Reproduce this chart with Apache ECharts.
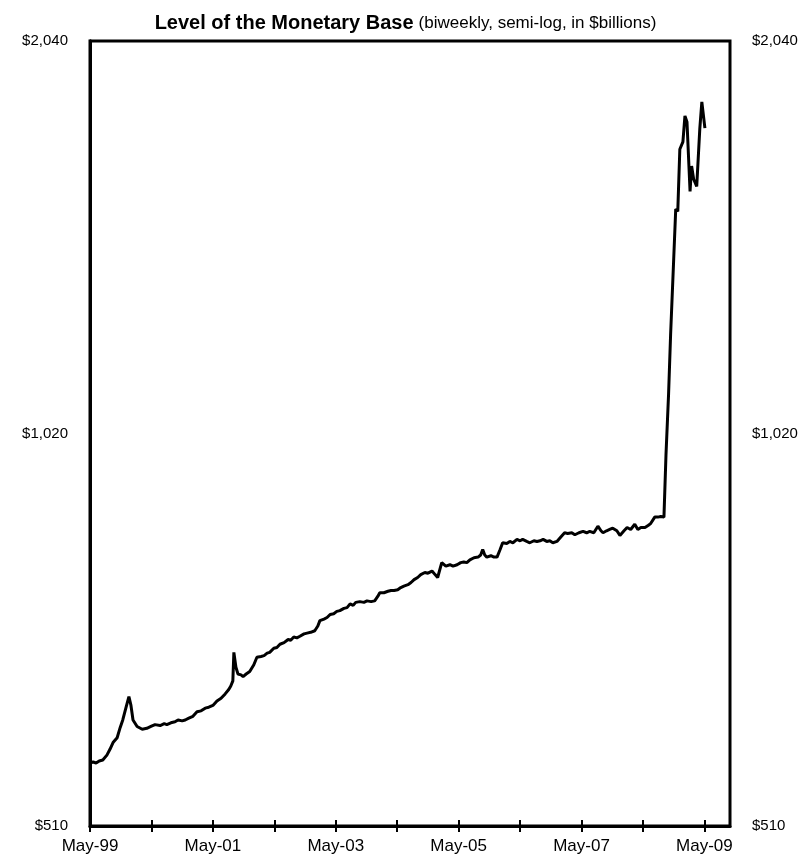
<!DOCTYPE html>
<html>
<head>
<meta charset="utf-8">
<script src="https://cdn.jsdelivr.net/npm/echarts@6/dist/echarts.min.js"></script>
<style>
  html, body { margin: 0; padding: 0; background: #fff; }
  #chart { width: 811px; height: 868px; }
</style>
</head>
<body>
<div id="chart"></div>
<script>
// months since May-1999
var months = [
  0, 0.6, 1.2, 1.8, 2.5, 3.3, 3.9, 4.5, 5.3, 5.9, 6.4, 7.0, 7.6, 8.0, 8.4, 9.2,
  10.2, 11.1, 11.9, 12.7, 13.7, 14.5, 15.0, 15.8, 16.6, 17.2, 18.0, 18.6, 19.3,
  20.1, 20.9, 21.7, 22.5, 23.2, 24.0, 24.8, 25.6, 26.4, 27.1, 27.5, 27.9, 28.1,
  28.5, 28.9, 29.5, 29.9, 30.5, 31.2, 32.0, 32.6, 33.4, 34.0, 34.6, 35.1, 35.9,
  36.5, 37.1, 37.9, 38.7, 39.2, 39.8, 40.4, 41.0, 41.8, 42.4, 43.1, 43.9, 44.5,
  44.9, 45.7, 46.3, 46.9, 47.6, 48.2, 48.8, 49.6, 50.2, 50.8, 51.4, 51.9, 52.7,
  53.5, 54.1, 54.9, 55.6, 56.2, 56.6, 57.4, 58.2, 58.8, 59.4, 60.1, 60.7, 61.3,
  62.1, 62.7, 63.3, 64.0, 64.6, 65.4, 66.0, 66.8, 67.4, 67.9, 68.7, 69.5, 70.3,
  70.9, 71.7, 72.4, 73.0, 73.6, 74.2, 75.0, 75.8, 76.3, 76.7, 77.1, 77.5, 78.3,
  78.9, 79.5, 80.1, 80.6, 81.4, 82.0, 82.6, 83.4, 84.0, 84.5, 85.3, 85.9, 86.7,
  87.3, 87.9, 88.5, 89.2, 89.8, 90.4, 91.2, 92.0, 92.7, 93.3, 94.1, 94.7, 95.5,
  96.3, 97.0, 97.6, 98.4, 99.2, 99.8, 100.2, 100.9, 101.5, 102.1, 102.9, 103.5,
  104.3, 104.9, 105.6, 106.4, 107.0, 107.6, 108.4, 109.0, 109.5, 110.3, 110.9,
  111.5, 112.1, 112.5, 113.0, 113.4, 114.0, 114.4, 114.8, 115.2, 115.8, 116.2,
  116.6, 117.2, 117.5, 117.9, 118.5, 119.1, 119.5, 120.1
];
// monetary base, $billions
var base = [
  570, 571, 570, 572, 573, 578, 584, 591, 596, 607, 615, 628, 641, 631, 615, 608,
  605, 606, 608, 610, 609, 611, 610, 612, 613, 615, 614, 615, 617,
  619, 624, 625, 628, 629, 631, 636, 639, 644, 649, 653, 659, 693,
  675, 667, 666, 664, 667, 670, 678, 687, 688, 689, 692, 693, 698,
  699, 703, 705, 709, 708, 712, 711, 713, 716, 717, 718, 720, 726,
  733, 735, 737, 741, 742, 745, 746, 749, 750, 755, 753, 757, 758,
  757, 759, 758, 759, 765, 770, 770, 772, 773, 773, 774, 777, 779,
  781, 784, 788, 791, 795, 798, 797, 800, 795, 791, 812, 807, 809,
  807, 809, 812, 813, 812, 816, 819, 820, 823, 831, 823, 820, 822,
  820, 820, 831, 841, 840, 843, 841, 846, 844, 846, 843, 841, 844,
  843, 844, 846, 843, 844, 841, 843, 850, 856, 855, 856, 853, 856,
  858, 856, 858, 856, 866, 859, 856, 859, 861, 863, 859, 852,
  859, 864, 861, 869, 861, 864, 864, 867, 870, 880, 880,
  881, 880, 983, 1093, 1215, 1387, 1516, 1510, 1685, 1707, 1787,
  1768, 1564, 1636, 1598, 1578, 1747, 1832, 1749
];
var xTicks = [0, 12, 24, 36, 48, 60, 72, 84, 96, 108, 120];
var xLabels = [0, 24, 48, 72, 96, 120];
var yLabels = [510, 1020, 2040];

var FONT = 'Liberation Sans, Arial, sans-serif';

function mayLabel(v) {
  var yr = Math.round(1999 + v / 12) % 100;
  return 'May-' + (yr < 10 ? '0' + yr : yr);
}
function dollar(v) {
  return '$' + Math.round(v).toLocaleString('en-US');
}

var chart = echarts.init(document.getElementById('chart'));

function yAxisFor(pos) {
  return {
    type: 'log',
    logBase: 2,
    position: pos,
    min: 510,
    max: 2040,
    axisLine: { show: true, lineStyle: { color: '#000', width: 3 } },
    axisTick: { show: false },
    splitLine: { show: false },
    axisLabel: {
      customValues: yLabels,
      formatter: dollar,
      color: '#000',
      fontFamily: FONT,
      fontSize: 15,
      margin: 22
    }
  };
}

chart.setOption({
  animation: false,
  backgroundColor: '#fff',
  title: {
    left: 'center',
    top: 8,
    text: '{b|Level of the Monetary Base} {s|(biweekly, semi-log, in $billions)}',
    textStyle: {
      rich: {
        b: { fontFamily: FONT, fontWeight: 'bold', fontSize: 20, color: '#000' },
        s: { fontFamily: FONT, fontWeight: 'normal', fontSize: 17, color: '#000' }
      }
    }
  },
  grid: {
    left: 90,
    right: 81,
    top: 41,
    bottom: 42,
    show: true,
    borderColor: '#000',
    borderWidth: 3
  },
  xAxis: [
    {
      type: 'value',
      min: 0,
      max: 125,
      axisLine: { show: true, onZero: false, lineStyle: { color: '#000', width: 3 } },
      axisTick: { show: true, customValues: xTicks, length: 6, lineStyle: { color: '#000', width: 2 } },
      splitLine: { show: false },
      axisLabel: {
        customValues: xLabels,
        formatter: mayLabel,
        color: '#000',
        fontFamily: FONT,
        fontSize: 17,
        margin: 12
      }
    },
    {
      type: 'value',
      position: 'bottom',
      min: 0,
      max: 125,
      axisLine: { show: false },
      axisTick: { show: true, inside: true, customValues: xTicks, length: 6, lineStyle: { color: '#000', width: 2 } },
      splitLine: { show: false },
      axisLabel: { show: false }
    }
  ],
  yAxis: [yAxisFor('left'), yAxisFor('right')],
  series: [
    {
      type: 'line',
      xAxisIndex: 0,
      yAxisIndex: 0,
      showSymbol: false,
      data: months.map(function (m, i) { return [m, base[i]]; }),
      lineStyle: { color: '#000', width: 3 },
      itemStyle: { color: '#000' }
    }
  ]
});
</script>
</body>
</html>
